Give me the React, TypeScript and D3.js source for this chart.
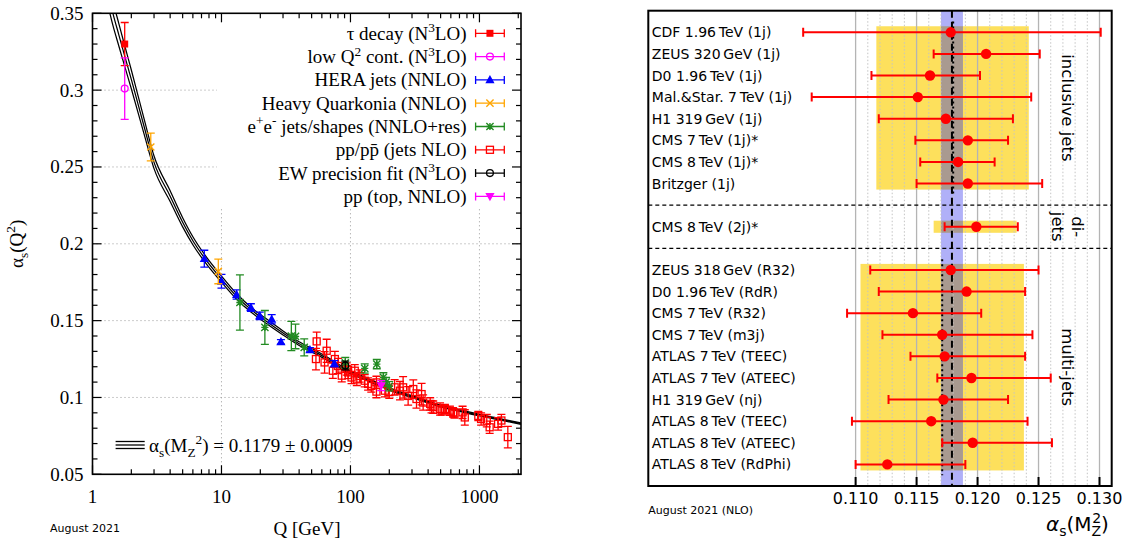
import { useEffect, useRef } from "react";
import * as d3 from "d3";

// ---------- left panel: running coupling ----------
const curveQ = [1.3, 1.44, 1.6, 1.78, 2.0, 2.5, 3.0, 4.0, 5.0, 6.0, 7.5, 10, 13, 17, 22, 30, 40, 55, 70, 91.19, 120, 160, 200, 300, 500, 700, 1000, 1500, 2100];
const curveAs = [0.366, 0.35, 0.336, 0.322, 0.307, 0.277, 0.253, 0.231, 0.214, 0.202, 0.19, 0.177, 0.166, 0.157, 0.15, 0.142, 0.135, 0.129, 0.124, 0.1179, 0.1135, 0.109, 0.1055, 0.1005, 0.0945, 0.0915, 0.0885, 0.0855, 0.083];
const curveErr = [0.0087, 0.0079, 0.0073, 0.0067, 0.0061, 0.005, 0.0041, 0.0035, 0.003, 0.0026, 0.0023, 0.002, 0.0018, 0.0016, 0.0015, 0.0013, 0.0012, 0.0011, 0.001, 0.0009, 0.00085, 0.0008, 0.00072, 0.00065, 0.00058, 0.00054, 0.0005, 0.00047, 0.00045];

const tauQ = [1.777];
const tauAs = [0.33];
const tauErr = [0.014];

const lowQ = [1.777];
const lowAs = [0.301];
const lowErr = [0.02];

const heraQ = [7.36, 10.0, 13.1, 16.9, 19.8, 24.5, 28.9, 48.5, 75];
const heraAs = [0.1903, 0.1756, 0.167, 0.1585, 0.1531, 0.1509, 0.1362, 0.131, 0.122];
const heraErr = [0.0055, 0.0045, 0.003, 0.0025, 0.0025, 0.003, 0.0015, 0.0015, 0.002];

const quarkQ = [2.83, 9.45];
const quarkAs = [0.263, 0.182];
const quarkErr = [0.009, 0.008];

const eeQ = [13.9, 21.7, 34.8, 37.5, 43.8, 91.2, 129, 160, 180, 189, 200];
const eeAs = [0.1618, 0.1456, 0.14, 0.1397, 0.1326, 0.1225, 0.1189, 0.1217, 0.1131, 0.11, 0.1073];
const eeErr = [0.018, 0.011, 0.0095, 0.008, 0.0055, 0.0035, 0.003, 0.003, 0.003, 0.003, 0.003];

const ppQ = [54, 54.7, 63, 65.4, 73, 75.7, 80, 85.6, 93.5, 96, 102, 108, 112, 118, 129, 137, 145, 159, 159, 185, 200, 220, 242, 256, 280, 307, 325, 356, 366, 415, 425, 438, 495, 510, 540, 590, 625, 640, 740, 770, 980, 1030, 1140, 1200, 1395, 1480, 1660];
const ppAs = [0.125, 0.1365, 0.1228, 0.1304, 0.1174, 0.125, 0.1205, 0.1142, 0.1185, 0.1163, 0.113, 0.1174, 0.1118, 0.114, 0.1109, 0.1088, 0.1075, 0.1098, 0.1038, 0.1044, 0.1035, 0.1066, 0.1044, 0.1066, 0.101, 0.1055, 0.099, 0.1022, 0.0967, 0.0958, 0.094, 0.0937, 0.0925, 0.0915, 0.0925, 0.0914, 0.0903, 0.0895, 0.0903, 0.087, 0.088, 0.086, 0.0849, 0.0806, 0.0828, 0.085, 0.0742];
const ppErr = [0.007, 0.006, 0.007, 0.0075, 0.005, 0.005, 0.005, 0.004, 0.004, 0.004, 0.004, 0.004, 0.004, 0.004, 0.004, 0.004, 0.004, 0.004, 0.004, 0.004, 0.004, 0.005, 0.006, 0.007, 0.006, 0.006, 0.006, 0.007, 0.005, 0.004, 0.004, 0.004, 0.004, 0.003, 0.003, 0.003, 0.003, 0.003, 0.004, 0.005, 0.003, 0.004, 0.004, 0.004, 0.004, 0.004, 0.007];

const ewQ = [91.19];
const ewAs = [0.1208];
const ewErr = [0.0028];

const topQ = [173];
const topAs = [0.1077];
const topErr = [0.0033];

const yTickLabels = ["0.05", "0.1", "0.15", "0.2", "0.25", "0.3", "0.35"];
const xTickLabels = ["1", "10", "100", "1000"];

// ---------- right panel: alpha_s(MZ) from jets ----------
const inclLabels = ["CDF 1.96\u2009TeV (1j)", "ZEUS 320\u2009GeV (1j)", "D0 1.96\u2009TeV (1j)", "Mal.&Star. 7\u2009TeV (1j)", "H1 319\u2009GeV (1j)", "CMS 7\u2009TeV (1j)*", "CMS 8\u2009TeV (1j)*", "Britzger (1j)"];
const inclVal = [0.1178, 0.1207, 0.1161, 0.1151, 0.1174, 0.1192, 0.1184, 0.1192];
const inclLo = [0.1057, 0.1164, 0.1113, 0.1064, 0.1119, 0.1149, 0.1153, 0.115];
const inclHi = [0.1301, 0.1251, 0.1202, 0.1244, 0.1229, 0.1225, 0.1214, 0.1253];

const diLabels = ["CMS 8\u2009TeV (2j)*"];
const diVal = [0.1199];
const diLo = [0.1173];
const diHi = [0.1233];

const multiLabels = ["ZEUS 318\u2009GeV (R32)", "D0 1.96\u2009TeV (RdR)", "CMS 7\u2009TeV (R32)", "CMS 7\u2009TeV (m3j)", "ATLAS 7\u2009TeV (TEEC)", "ATLAS 7\u2009TeV (ATEEC)", "H1 319\u2009GeV (nj)", "ATLAS 8\u2009TeV (TEEC)", "ATLAS 8\u2009TeV (ATEEC)", "ATLAS 8\u2009TeV (RdPhi)"];
const multiVal = [0.1178, 0.1191, 0.1147, 0.1171, 0.1173, 0.1195, 0.1172, 0.1162, 0.1196, 0.1126];
const multiLo = [0.1112, 0.1119, 0.1093, 0.1122, 0.1145, 0.1167, 0.1127, 0.1097, 0.1171, 0.11];
const multiHi = [0.125, 0.1239, 0.1203, 0.1245, 0.1239, 0.126, 0.1225, 0.1241, 0.1261, 0.119];

// group ranges (yellow) and group averages (dotted)
const groupLo = [0.1117, 0.1164, 0.1104];
const groupHi = [0.1242, 0.1232, 0.1238];
const groupAvg = [0.118, null, 0.1171];

const worldAvg = 0.1179;
const worldErr = 0.0009;
const rTickLabels = ["0.110", "0.115", "0.120", "0.125", "0.130"];

type Part = [string, number];

function rich(t: any, parts: Part[], size: number) {
  let cur = 0;
  parts.forEach(([s, lvl]) => {
    const target = lvl === 1 ? -0.4 * size : lvl === -1 ? 0.28 * size : 0;
    t.append("tspan")
      .attr("dy", target - cur)
      .attr("font-size", lvl ? size * 0.7 : size)
      .text(s);
    cur = target;
  });
}

function marker(g: any, type: string, cx: number, cy: number, color: string) {
  if (type === "fsq") {
    g.append("rect").attr("x", cx - 3.5).attr("y", cy - 3.5).attr("width", 7).attr("height", 7).attr("fill", color);
  } else if (type === "osq") {
    g.append("rect").attr("x", cx - 3.5).attr("y", cy - 3.5).attr("width", 7).attr("height", 7)
      .attr("fill", "none").attr("stroke", color).attr("stroke-width", 1.3);
  } else if (type === "ocirc") {
    g.append("circle").attr("cx", cx).attr("cy", cy).attr("r", 3.4)
      .attr("fill", "none").attr("stroke", color).attr("stroke-width", 1.3);
  } else if (type === "ftri") {
    g.append("path").attr("d", `M${cx},${cy - 4.8}L${cx + 4.6},${cy + 3.4}L${cx - 4.6},${cy + 3.4}Z`).attr("fill", color);
  } else if (type === "ftrid") {
    g.append("path").attr("d", `M${cx},${cy + 4.8}L${cx + 4.6},${cy - 3.4}L${cx - 4.6},${cy - 3.4}Z`).attr("fill", color);
  } else if (type === "x" || type === "star") {
    const r = 3.6;
    const p = `M${cx - r},${cy - r}L${cx + r},${cy + r}M${cx - r},${cy + r}L${cx + r},${cy - r}` +
      (type === "star" ? `M${cx - r},${cy}L${cx + r},${cy}M${cx},${cy - r}L${cx},${cy + r}` : "");
    g.append("path").attr("d", p).attr("stroke", color).attr("stroke-width", 1.4).attr("fill", "none");
  }
}

function drawLeft(svg: any) {
  const x0 = 92.5, x1 = 521, y0 = 13.3, y1 = 474.3;
  const x = d3.scaleLog().domain([1, 2100]).range([x0, x1]);
  const y = d3.scaleLinear().domain([0.05, 0.35]).range([y1, y0]);
  const serif = "'Liberation Serif', 'DejaVu Serif', serif";
  const g = svg.append("g").attr("font-family", serif);

  g.append("clipPath").attr("id", "lclip").append("rect")
    .attr("x", x0).attr("y", y0).attr("width", x1 - x0).attr("height", y1 - y0);

  // dotted grid
  [10, 100, 1000].forEach((v) => {
    g.append("line").attr("x1", x(v)).attr("x2", x(v)).attr("y1", y0).attr("y2", y1)
      .attr("stroke", "#999").attr("stroke-dasharray", "1,3");
  });
  [0.1, 0.15, 0.2, 0.25, 0.3].forEach((v) => {
    g.append("line").attr("x1", x0).attr("x2", x1).attr("y1", y(v)).attr("y2", y(v))
      .attr("stroke", "#999").attr("stroke-dasharray", "1,3");
  });
  // legend background hides the grid
  g.append("rect").attr("x", 217).attr("y", y0).attr("width", x1 - 217).attr("height", 207 - y0).attr("fill", "#fff");

  // running curve with its uncertainty
  const pts = curveQ.map((q, i) => ({ q, a: curveAs[i], e: curveErr[i] }));
  const cg = g.append("g").attr("clip-path", "url(#lclip)");
  [-1, 0, 1].forEach((s) => {
    const line = d3.line<any>().x((d) => x(d.q)).y((d) => y(d.a + s * d.e)).curve(d3.curveMonotoneX);
    cg.append("path").attr("d", line(pts)).attr("fill", "none").attr("stroke", "#000").attr("stroke-width", 1.25);
  });

  const series = [
    { q: ppQ, a: ppAs, e: ppErr, color: "#ff0000", m: "osq" },
    { q: tauQ, a: tauAs, e: tauErr, color: "#ff0000", m: "fsq" },
    { q: lowQ, a: lowAs, e: lowErr, color: "#ff00ff", m: "ocirc" },
    { q: heraQ, a: heraAs, e: heraErr, color: "#0000ff", m: "ftri" },
    { q: quarkQ, a: quarkAs, e: quarkErr, color: "#ffa500", m: "x" },
    { q: eeQ, a: eeAs, e: eeErr, color: "#228b22", m: "star" },
    { q: ewQ, a: ewAs, e: ewErr, color: "#000000", m: "ocirc" },
    { q: topQ, a: topAs, e: topErr, color: "#ff00ff", m: "ftrid" },
  ];
  const pg = g.append("g").attr("clip-path", "url(#lclip)");
  series.forEach((s) => {
    s.q.forEach((q, i) => {
      const cx = x(q);
      const ya = y(s.a[i] + s.e[i]);
      const yb = y(s.a[i] - s.e[i]);
      const p = `M${cx},${ya}L${cx},${yb}M${cx - 4},${ya}L${cx + 4},${ya}M${cx - 4},${yb}L${cx + 4},${yb}`;
      pg.append("path").attr("d", p).attr("stroke", s.color).attr("stroke-width", 1.3).attr("fill", "none");
      marker(pg, s.m, cx, y(s.a[i]), s.color);
    });
  });

  // ticks
  d3.range(5, 36).forEach((i) => {
    const len = i % 5 === 0 ? 9 : 5;
    const yy = y(i / 100);
    g.append("line").attr("x1", x0).attr("x2", x0 + len).attr("y1", yy).attr("y2", yy).attr("stroke", "#000").attr("stroke-width", 1.2);
    g.append("line").attr("x1", x1).attr("x2", x1 - len).attr("y1", yy).attr("y2", yy).attr("stroke", "#000").attr("stroke-width", 1.2);
  });
  [1, 10, 100, 1000].forEach((dec) => {
    d3.range(1, 10).forEach((m) => {
      const v = dec * m;
      if (v > 2100) return;
      const len = m === 1 ? 9 : 5;
      const xx = x(v);
      g.append("line").attr("x1", xx).attr("x2", xx).attr("y1", y1).attr("y2", y1 - len).attr("stroke", "#000").attr("stroke-width", 1.2);
      g.append("line").attr("x1", xx).attr("x2", xx).attr("y1", y0).attr("y2", y0 + len).attr("stroke", "#000").attr("stroke-width", 1.2);
    });
  });
  g.append("rect").attr("x", x0).attr("y", y0).attr("width", x1 - x0).attr("height", y1 - y0)
    .attr("fill", "none").attr("stroke", "#000").attr("stroke-width", 1.6);

  yTickLabels.forEach((t) => {
    g.append("text").attr("x", x0 - 9).attr("y", y(+t) + 6.5).attr("text-anchor", "end")
      .attr("font-size", 19).text(t);
  });
  xTickLabels.forEach((t) => {
    g.append("text").attr("x", x(+t)).attr("y", 503).attr("text-anchor", "middle")
      .attr("font-size", 19).text(t);
  });
  g.append("text").attr("x", 307).attr("y", 535).attr("text-anchor", "middle").attr("font-size", 19).text("Q [GeV]");
  const yl = g.append("text").attr("transform", `translate(23,${(y0 + y1) / 2}) rotate(-90)`)
    .attr("text-anchor", "middle").attr("font-size", 19);
  rich(yl, [["α", 0], ["s", -1], ["(Q", 0], ["2", 1], [")", 0]], 19);

  g.append("text").attr("x", 50).attr("y", 532).attr("font-family", "'DejaVu Sans', sans-serif")
    .attr("font-size", 11).text("August 2021");

  // legend
  const legendLabels: Part[][] = [
    [["τ decay (N", 0], ["3", 1], ["LO)", 0]],
    [["low Q", 0], ["2", 1], [" cont. (N", 0], ["3", 1], ["LO)", 0]],
    [["HERA jets (NNLO)", 0]],
    [["Heavy Quarkonia (NNLO)", 0]],
    [["e", 0], ["+", 1], ["e", 0], ["-", 1], [" jets/shapes (NNLO+res)", 0]],
    [["pp/pp\u0304 (jets NLO)", 0]],
    [["EW precision fit (N", 0], ["3", 1], ["LO)", 0]],
    [["pp (top, NNLO)", 0]],
  ];
  const legendStyle = [
    ["#ff0000", "fsq"], ["#ff00ff", "ocirc"], ["#0000ff", "ftri"], ["#ffa500", "x"],
    ["#228b22", "star"], ["#ff0000", "osq"], ["#000000", "ocirc"], ["#ff00ff", "ftrid"],
  ];
  legendLabels.forEach((parts, i) => {
    const ry = 33.3 + i * 23.3;
    const t = g.append("text").attr("x", 466.5).attr("y", ry + 6.5).attr("text-anchor", "end")
      .attr("font-size", 19).style("white-space", "pre");
    rich(t, parts, 19);
    const [color, m] = legendStyle[i];
    const a = 475.6, b = 504.3;
    g.append("path").attr("d", `M${a},${ry}L${b},${ry}M${a},${ry - 4}L${a},${ry + 4}M${b},${ry - 4}L${b},${ry + 4}`)
      .attr("stroke", color).attr("stroke-width", 1.3).attr("fill", "none");
    marker(g, m, (a + b) / 2, ry, color);
  });

  // world average annotation
  [441.5, 445, 448.5].forEach((yy) => {
    g.append("line").attr("x1", 115.6).attr("x2", 144.7).attr("y1", yy).attr("y2", yy).attr("stroke", "#000").attr("stroke-width", 1.3);
  });
  const ft = g.append("text").attr("x", 149).attr("y", 451.5).attr("font-size", 19).style("white-space", "pre");
  rich(ft, [["α", 0], ["s", -1], ["(M", 0], ["Z", -1], ["2", 1], [") = 0.1179 ± 0.0009", 0]], 19);
}

function drawRight(svg: any) {
  const x0 = 648.3, x1 = 1111.7, y0 = 10.7, y1 = 486;
  const x = d3.scaleLinear().domain([0.093, 0.131]).range([x0, x1]);
  const y = d3.scaleLinear().domain([-1, 21]).range([y0, y1]);
  const sans = "'DejaVu Sans', sans-serif";
  const g = svg.append("g").attr("font-family", sans);

  const groups = [
    { labels: inclLabels, val: inclVal, lo: inclLo, hi: inclHi, start: 0 },
    { labels: diLabels, val: diVal, lo: diLo, hi: diHi, start: 9 },
    { labels: multiLabels, val: multiVal, lo: multiLo, hi: multiHi, start: 11 },
  ];

  // yellow group ranges
  groups.forEach((gr, k) => {
    const ya = y(gr.start - 0.28);
    const yb = y(gr.start + gr.labels.length - 1 + 0.28);
    g.append("rect").attr("x", x(groupLo[k])).attr("y", ya).attr("width", x(groupHi[k]) - x(groupLo[k]))
      .attr("height", yb - ya).attr("fill", "#fde05c");
  });
  // world average band
  g.append("rect").attr("x", x(worldAvg - worldErr)).attr("y", y0).attr("width", x(worldAvg + worldErr) - x(worldAvg - worldErr))
    .attr("height", y1 - y0).attr("fill", "#b0b0f8");
  groups.forEach((gr, k) => {
    const ya = y(gr.start - 0.28);
    const yb = y(gr.start + gr.labels.length - 1 + 0.28);
    const a = Math.max(x(groupLo[k]), x(worldAvg - worldErr));
    const b = Math.min(x(groupHi[k]), x(worldAvg + worldErr));
    g.append("rect").attr("x", a).attr("y", ya).attr("width", b - a).attr("height", yb - ya).attr("fill", "#a99a90");
  });

  // grid
  d3.range(110, 131).forEach((i) => {
    const xx = x(i / 1000);
    const major = i % 5 === 0;
    g.append("line").attr("x1", xx).attr("x2", xx).attr("y1", y0).attr("y2", y1)
      .attr("stroke", major ? "#b4b4b4" : "#c4c4c4").attr("stroke-width", major ? 1.3 : 1)
      .attr("stroke-dasharray", major ? null : "1.5,2");
  });

  // group averages and world average
  groups.forEach((gr, k) => {
    const v = groupAvg[k];
    if (v === null) return;
    g.append("line").attr("x1", x(v)).attr("x2", x(v))
      .attr("y1", y(gr.start - 0.5)).attr("y2", y(gr.start + gr.labels.length - 0.5))
      .attr("stroke", "#000").attr("stroke-width", 2).attr("stroke-dasharray", "2,3");
  });
  g.append("line").attr("x1", x(worldAvg)).attr("x2", x(worldAvg)).attr("y1", y0).attr("y2", y1)
    .attr("stroke", "#000").attr("stroke-width", 2).attr("stroke-dasharray", "7,4");

  // dividers
  [8, 10].forEach((s) => {
    g.append("line").attr("x1", x0).attr("x2", x1).attr("y1", y(s)).attr("y2", y(s))
      .attr("stroke", "#000").attr("stroke-width", 1.1).attr("stroke-dasharray", "4,3");
  });

  // measurements
  groups.forEach((gr) => {
    gr.labels.forEach((lab, i) => {
      const yy = y(gr.start + i);
      const a = x(gr.lo[i]), b = x(gr.hi[i]);
      g.append("path").attr("d", `M${a},${yy}L${b},${yy}M${a},${yy - 4.5}L${a},${yy + 4.5}M${b},${yy - 4.5}L${b},${yy + 4.5}`)
        .attr("stroke", "#ff0000").attr("stroke-width", 2).attr("fill", "none");
      g.append("circle").attr("cx", x(gr.val[i])).attr("cy", yy).attr("r", 5.2).attr("fill", "#ff0000");
      g.append("text").attr("x", x0 + 3.5).attr("y", yy + 5).attr("font-size", 14).text(lab);
    });
  });

  // group titles
  const title = (cx: number, cy: number, lines: string[]) => {
    const t = g.append("text").attr("transform", `translate(${cx},${cy}) rotate(90)`)
      .attr("text-anchor", "middle").attr("font-size", 16.5);
    lines.forEach((s, i) => {
      t.append("tspan").attr("x", 0).attr("y", 6 + (i - (lines.length - 1) / 2) * 20).text(s);
    });
  };
  title(1068, y(3.5), ["inclusive jets"]);
  title(1068, y(9), ["di-", "jets"]);
  title(1068, y(15.5), ["multi-jets"]);

  // frame and axis
  g.append("rect").attr("x", x0).attr("y", y0).attr("width", x1 - x0).attr("height", y1 - y0)
    .attr("fill", "none").attr("stroke", "#000").attr("stroke-width", 2);
  rTickLabels.forEach((t) => {
    const xx = x(+t);
    g.append("line").attr("x1", xx).attr("x2", xx).attr("y1", y1).attr("y2", y1 - 9).attr("stroke", "#000").attr("stroke-width", 2);
    g.append("text").attr("x", xx).attr("y", 504).attr("text-anchor", "middle").attr("font-size", 16).text(t);
  });
  const al = g.append("text").attr("x", 1046).attr("y", 531).attr("font-size", 20);
  al.append("tspan").attr("font-style", "italic").text("α");
  al.append("tspan").attr("dy", 5).attr("font-size", 14).text("s");
  al.append("tspan").attr("dy", -5).text("(M");
  al.append("tspan").attr("dy", 5).attr("font-size", 14).text("Z");
  al.append("tspan").attr("dx", -9).attr("dy", -13).attr("font-size", 14).text("2");
  al.append("tspan").attr("dy", 8).text(")");

  g.append("text").attr("x", x0).attr("y", 514).attr("font-size", 11).text("August 2021 (NLO)");
}

export default function App() {
  const ref = useRef<SVGSVGElement>(null);
  useEffect(() => {
    const svg = d3.select(ref.current);
    svg.selectAll("*").remove();
    drawLeft(svg);
    drawRight(svg);
  }, []);
  return (
    <svg
      ref={ref}
      width={1125}
      height={543}
      style={{ position: "absolute", left: 0, top: 0, background: "#fff" }}
    />
  );
}
